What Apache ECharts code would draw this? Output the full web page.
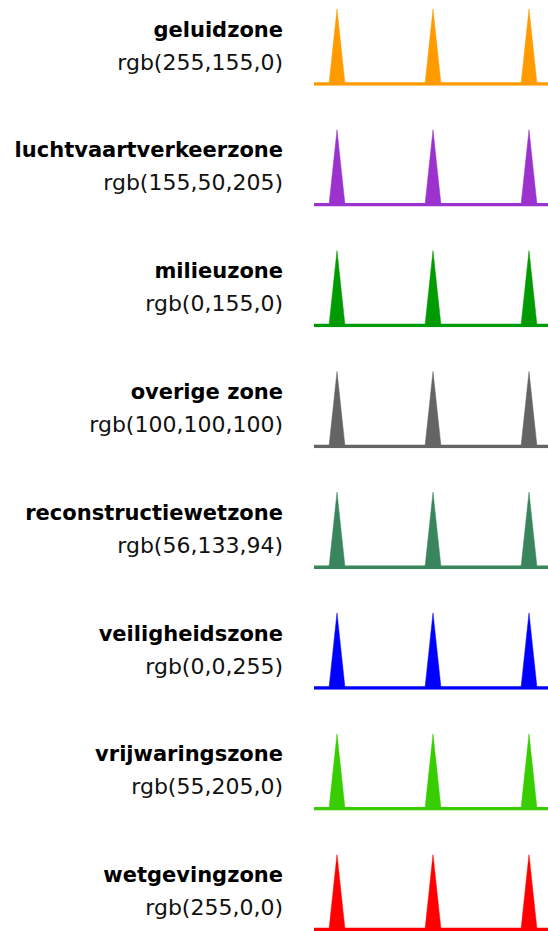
<!DOCTYPE html>
<html>
<head>
<meta charset="utf-8">
<style>
  html, body { margin: 0; padding: 0; background: #fff; }
  #chart { width: 548px; height: 931px; }
</style>
<script src="https://cdn.jsdelivr.net/npm/echarts@6/dist/echarts.min.js"></script>
</head>
<body>
<div id="chart"></div>
<script>
// ---- data ----
const zoneNames = ['geluidzone', 'luchtvaartverkeerzone', 'milieuzone', 'overige zone',
  'reconstructiewetzone', 'veiligheidszone', 'vrijwaringszone', 'wetgevingzone'];
const zoneColors = ['rgb(255,155,0)', 'rgb(155,50,205)', 'rgb(0,155,0)', 'rgb(100,100,100)',
  'rgb(56,133,94)', 'rgb(0,0,255)', 'rgb(55,205,0)', 'rgb(255,0,0)'];
// sample line: length and spike positions / height along it
const lineLength = 234;
const spikeCenters = [23, 119, 215];
const spikeHalfBase = 8;
const spikeHeight = 75;

// ---- layout ----
const rowPitch = 120.8;
const firstTop = 9;
const plotLeft = 314;
const labelRight = 283;

function spikePoints() {
  const pts = [[0, 0]];
  spikeCenters.forEach(c => {
    pts.push([c - spikeHalfBase, 0]);
    pts.push([c, spikeHeight]);
    pts.push([c + spikeHalfBase, 0]);
  });
  pts.push([lineLength, 0]);
  return pts;
}

const grids = [], xAxes = [], yAxes = [], series = [], graphics = [];
zoneNames.forEach((name, i) => {
  const top = firstTop + rowPitch * i;
  grids.push({ left: plotLeft, width: lineLength, top: top, height: spikeHeight, containLabel: false });
  xAxes.push({ type: 'value', gridIndex: i, min: 0, max: lineLength, show: false });
  yAxes.push({ type: 'value', gridIndex: i, min: 0, max: spikeHeight, show: false });
  series.push({
    type: 'line', xAxisIndex: i, yAxisIndex: i, data: spikePoints(),
    symbol: 'none', silent: true, animation: false,
    lineStyle: { width: 0.5, color: zoneColors[i] },
    areaStyle: { color: zoneColors[i], opacity: 1 }
  });
  series.push({
    type: 'line', xAxisIndex: i, yAxisIndex: i, data: [[0, 0], [lineLength, 0]],
    symbol: 'none', silent: true, animation: false,
    lineStyle: { width: 3.5, color: zoneColors[i] }
  });
  graphics.push({
    type: 'text', right: 548 - labelRight, top: top + 10,
    style: { text: name, font: 'bold 21px Verdana, "DejaVu Sans"', fill: '#000', textAlign: 'right' }
  });
  graphics.push({
    type: 'text', right: 548 - labelRight, top: top + 42,
    style: { text: zoneColors[i], font: '22px Verdana, "DejaVu Sans"', fill: '#111', textAlign: 'right' }
  });
});

const chart = echarts.init(document.getElementById('chart'), null, { renderer: 'svg' });
chart.setOption({
  animation: false,
  backgroundColor: '#fff',
  grid: grids, xAxis: xAxes, yAxis: yAxes, series: series, graphic: graphics
});
</script>
</body>
</html>
